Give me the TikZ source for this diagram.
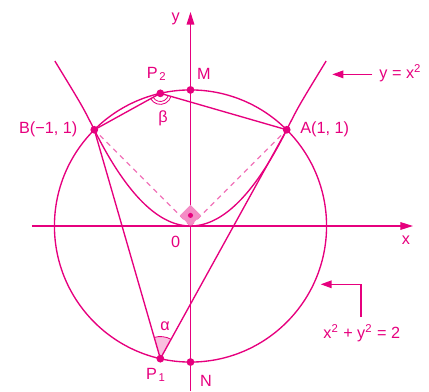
\documentclass[tikz,border=0pt]{standalone}
\usepackage{fontspec}
\setmainfont{Liberation Sans}
\usetikzlibrary{arrows.meta, positioning}
\definecolor{mag}{RGB}{230,0,126}

\begin{document}
\begin{tikzpicture}[x=2cm, y=2cm, font=\fontsize{9.6}{11.5}\selectfont]
    \tikzstyle{line} = [draw=mag, line width=0.8pt]
    \tikzstyle{axis} = [line, -{Triangle[length=7.5pt, width=4.5pt]}]
    \tikzstyle{callout} = [line, -{Triangle[length=6.5pt, width=4.5pt]}]
    \tikzstyle{lbl} = [text=mag, inner sep=0pt]
    \tikzstyle{guide} = [draw=mag!55, line width=0.7pt, dash pattern=on 3pt off 2.6pt]
    \useasboundingbox (-1.980,-1.715) rectangle (2.479,2.349);

    \coordinate (O) at (0,0);
    \coordinate (A) at (1,1);
    \coordinate (B) at (-1,1);
    \coordinate (M) at (0,1.4142);
    \coordinate (N) at (0,-1.4142);
    \coordinate (P2) at (102.8:1.4142);
    \coordinate (P1) at (257.2:1.4142);

    % eixos
    \coordinate (xstart) at (-1.648,0);
    \coordinate (xend) at (2.313,0);
    \coordinate (ystart) at (0,-1.715);
    \coordinate (yend) at (0,2.225);
    \draw [axis] (xstart) -- (xend);
    \draw [axis] (ystart) -- (yend);

    % angulo reto em O
    \draw [guide] (O) -- (A);
    \draw [guide] (O) -- (B);
    \fill [mag!45] (O) -- (0.11,0.11) -- (0,0.22) -- (-0.11,0.11) -- cycle;
    \fill [mag] (0,0.11) circle (1.5pt);

    % circunferencia e parabola
    \draw [line] (O) circle (1.4142);
    \draw [line] (-1.41,1.715) .. controls (-1.12,1.24) .. (B)
        -- plot[domain=-1:1, samples=61] (\x,{\x*\x})
        .. controls (1.12,1.24) .. (1.41,1.715);

    % angulo alfa em P1
    \fill [mag!25] (P1) -- ++(61.1:0.23) arc[start angle=61.1, end angle=106.1, radius=0.23] -- cycle;
    \draw [line, line width=0.5pt] (P1) ++(61.1:0.23) arc[start angle=61.1, end angle=106.1, radius=0.23];

    % cordas
    \draw [line] (P1) -- (A);
    \draw [line] (P1) -- (B);
    \draw [line] (P2) -- (A);
    \draw [line] (P2) -- (B);

    % angulo beta em P2
    \draw [line, line width=0.5pt] (P2) ++(208.9:0.085) arc[start angle=208.9, end angle=343.9, radius=0.085];
    \draw [line, line width=0.5pt] (P2) ++(208.9:0.115) arc[start angle=208.9, end angle=343.9, radius=0.115];

    \foreach \p in {A, B, M, N, P1, P2}
        \fill [mag] (\p) circle (2.3pt);

    % rotulos
    \node (lbly) [lbl] at (-0.154,2.149) {y};
    \node (lblx) [lbl] at (2.24,-0.146) {x};
    \node (lblO) [lbl] at (-0.154,-0.163) {0};
    \node (lblM) [lbl] at (0.14,1.58) {M};
    \node (lblN) [lbl] at (0.161,-1.608) {N};
    \node (lblP2) [lbl] at (-0.351,1.58) {P\textsubscript{\kern1pt 2}};
    \node (lblP1) [lbl] at (-0.359,-1.549) {P\textsubscript{\kern1pt 1}};
    \node (lblA) [lbl, anchor=west] at (1.138,1) {A(1, 1)};
    \node (lblB) [lbl, anchor=east] at (-1.173,1) {B(−1, 1)};
    \node (lblalpha) [lbl] at (-0.265,-1.04) {α};
    \node (lblbeta) [lbl] at (-0.286,1.12) {β};

    % legendas com setas
    \node (lblpar) [lbl, anchor=mid west] at (1.96,1.576) {y = x\textsuperscript{2}};
    \coordinate (partip) at (1.474,1.576);
    \draw [callout] (lblpar.mid west) ++(-0.07,0) -- (partip);

    \node (lblcirc) [lbl] at (1.78,-1.112) {x\textsuperscript{2} + y\textsuperscript{2} = 2};
    \coordinate (circtip) at (1.353,-0.606);
    \draw [callout] (lblcirc.north) ++(-0.008,0.07) |- (circtip);
\end{tikzpicture}
\end{document}
